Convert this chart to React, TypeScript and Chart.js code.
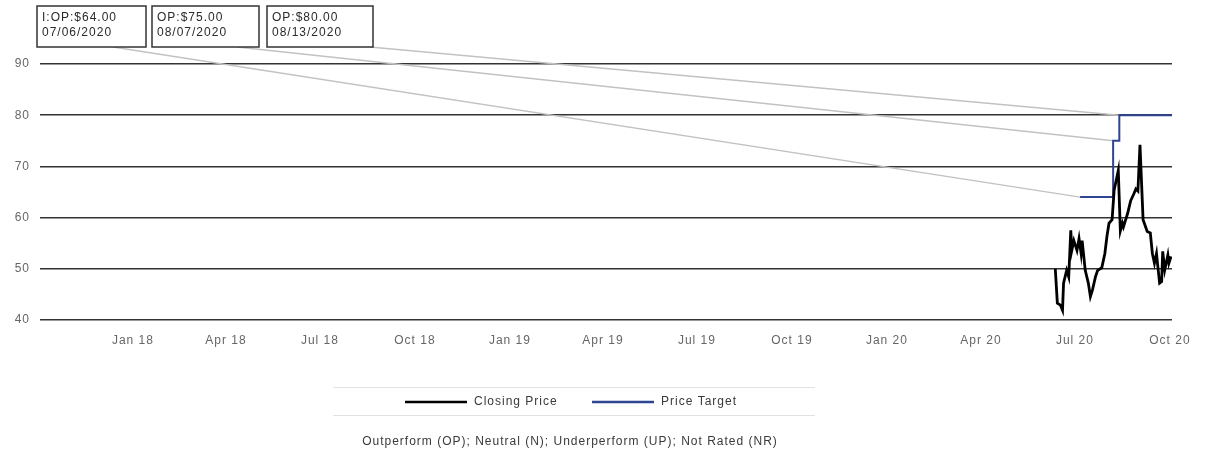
import React, { useEffect, useRef } from 'react';
import { Chart, registerables } from 'chart.js';

Chart.register(...registerables);

// ---- data ----
const priceDates = [
  '2020-06-12', '2020-06-14', '2020-06-17', '2020-06-19', '2020-06-20', '2020-06-23', '2020-06-25',
  '2020-06-27', '2020-06-28', '2020-06-30', '2020-07-03', '2020-07-05', '2020-07-07', '2020-07-08',
  '2020-07-11', '2020-07-14', '2020-07-16', '2020-07-18', '2020-07-21', '2020-07-23', '2020-07-27',
  '2020-07-30', '2020-08-01', '2020-08-03', '2020-08-06', '2020-08-08', '2020-08-12', '2020-08-14',
  '2020-08-16', '2020-08-17', '2020-08-21', '2020-08-24', '2020-08-27', '2020-08-29', '2020-08-31',
  '2020-09-02', '2020-09-05', '2020-09-09', '2020-09-12', '2020-09-14', '2020-09-16', '2020-09-18',
  '2020-09-19', '2020-09-21', '2020-09-23', '2020-09-24', '2020-09-26', '2020-09-29', '2020-09-30',
  '2020-10-02',
];
const priceValues = [
  50.0, 43.3, 42.9, 41.9, 47.2, 49.7, 48.4,
  57.5, 53.6, 55.5, 53.6, 55.9, 53.0, 55.5,
  49.7, 47.2, 44.6, 45.9, 48.5, 49.7, 50.2,
  53.0, 56.3, 58.9, 59.6, 65.4, 69.2, 57.4,
  58.9, 58.2, 60.8, 63.3, 64.6, 65.6, 65.2,
  74.2, 59.6, 57.3, 57.0, 53.0, 51.1, 53.0,
  51.0, 47.2, 47.5, 53.4, 49.8, 52.7, 51.1,
  52.4,
];
const targetDates = ['2020-07-06', '2020-08-07', '2020-08-13', '2020-10-03'];
const targetValues = [64, 75, 80, 80];
const ratingLabels = ['I:OP:$64.00', 'OP:$75.00', 'OP:$80.00'];
const ratingDates = ['07/06/2020', '08/07/2020', '08/13/2020'];
const tickDates = [
  '2018-01-01', '2018-04-01', '2018-07-01', '2018-10-01',
  '2019-01-01', '2019-04-01', '2019-07-01', '2019-10-01',
  '2020-01-01', '2020-04-01', '2020-07-01', '2020-10-01',
];
const tickLabels = [
  'Jan 18', 'Apr 18', 'Jul 18', 'Oct 18',
  'Jan 19', 'Apr 19', 'Jul 19', 'Oct 19',
  'Jan 20', 'Apr 20', 'Jul 20', 'Oct 20',
];
const seriesNames = ['Closing Price', 'Price Target'];
const footerText = 'Outperform (OP); Neutral (N); Underperform (UP); Not Rated (NR)';
const xStart = '2017-10-03';
const xEnd = '2020-10-03';
const yMin = 40;
const yMax = 90;

const dayOf = (s: string) => {
  const [y, m, d] = s.split('-').map(Number);
  return Date.UTC(y, m - 1, d) / 86400000;
};

const FONT = "'Liberation Sans', Arial, sans-serif";

// layout of the rating boxes (pixels)
const boxes = [
  { x: 37, y: 6, w: 109, h: 41, ax: 113 },
  { x: 152, y: 6, w: 107, h: 41, ax: 237 },
  { x: 267, y: 6, w: 106, h: 41, ax: 370 },
];

const overlay = {
  id: 'overlay',
  beforeUpdate(chart: any) {
    chart.ctx.letterSpacing = '1px';
  },
  beforeDatasetsDraw(chart: any) {
    const { ctx } = chart;
    const x = chart.scales.x;
    const y = chart.scales.y;
    ctx.save();
    ctx.strokeStyle = '#c2c2c2';
    ctx.lineWidth = 1.5;
    boxes.forEach((b, i) => {
      const tx = x.getPixelForValue(dayOf(targetDates[i]));
      const ty = y.getPixelForValue(targetValues[i]);
      ctx.beginPath();
      ctx.moveTo(b.ax, b.y + b.h);
      ctx.lineTo(tx, ty);
      ctx.stroke();
    });
    ctx.restore();
  },
  afterDraw(chart: any) {
    const { ctx } = chart;
    ctx.save();
    ctx.letterSpacing = '1px';
    // rating boxes
    boxes.forEach((b, i) => {
      ctx.fillStyle = '#ffffff';
      ctx.fillRect(b.x, b.y, b.w, b.h);
      ctx.strokeStyle = '#333333';
      ctx.lineWidth = 1.5;
      ctx.strokeRect(b.x, b.y, b.w, b.h);
      ctx.fillStyle = '#2a2a2a';
      ctx.font = `12px ${FONT}`;
      ctx.textAlign = 'left';
      ctx.textBaseline = 'middle';
      ctx.fillText(ratingLabels[i], b.x + 5, b.y + 12);
      ctx.fillText(ratingDates[i], b.x + 5, b.y + 27);
    });

    // legend
    ctx.strokeStyle = '#e2e2e2';
    ctx.lineWidth = 1;
    [387, 415].forEach((yy) => {
      ctx.beginPath();
      ctx.moveTo(333, yy + 0.5);
      ctx.lineTo(815, yy + 0.5);
      ctx.stroke();
    });
    const itemX = [405, 592];
    chart.data.datasets.forEach((ds: any, i: number) => {
      ctx.strokeStyle = ds.borderColor;
      ctx.lineWidth = 2.5;
      ctx.beginPath();
      ctx.moveTo(itemX[i], 402);
      ctx.lineTo(itemX[i] + 62, 402);
      ctx.stroke();
      ctx.fillStyle = '#3a3a3a';
      ctx.font = `12px ${FONT}`;
      ctx.textAlign = 'left';
      ctx.textBaseline = 'middle';
      ctx.fillText(ds.label, itemX[i] + 69, 402);
    });

    // footer
    ctx.fillStyle = '#3a3a3a';
    ctx.font = `12px ${FONT}`;
    ctx.textAlign = 'center';
    ctx.textBaseline = 'middle';
    ctx.fillText(footerText, 570, 442);
    ctx.restore();
  },
};

export default function App() {
  const canvasRef = useRef<HTMLCanvasElement | null>(null);

  useEffect(() => {
    if (!canvasRef.current) return;
    const tickValues = tickDates.map(dayOf);
    const chart = new Chart(canvasRef.current, {
      type: 'line',
      data: {
        datasets: [
          {
            label: seriesNames[0],
            data: priceDates.map((d, i) => ({ x: dayOf(d), y: priceValues[i] })),
            borderColor: '#000000',
            backgroundColor: '#000000',
            borderWidth: 2.8,
            pointRadius: 0,
            tension: 0,
            fill: false,
          },
          {
            label: seriesNames[1],
            data: targetDates.map((d, i) => ({ x: dayOf(d), y: targetValues[i] })),
            borderColor: '#2f4591',
            backgroundColor: '#2f4591',
            borderWidth: 2,
            pointRadius: 0,
            stepped: true,
            fill: false,
          },
        ],
      },
      options: {
        animation: false,
        responsive: false,
        maintainAspectRatio: false,
        layout: { padding: { top: 64, right: 34, bottom: 95, left: 0 } },
        plugins: {
          legend: { display: false },
          tooltip: { enabled: false },
          title: { display: false },
        },
        scales: {
          x: {
            type: 'linear',
            min: dayOf(xStart),
            max: dayOf(xEnd),
            afterBuildTicks: (scale: any) => {
              scale.ticks = tickValues.map((v) => ({ value: v }));
            },
            afterFit: (scale: any) => {
              scale.height = 40;
            },
            ticks: {
              autoSkip: false,
              maxRotation: 0,
              minRotation: 0,
              padding: 5,
              color: '#666666',
              font: { family: FONT, size: 12 },
              callback: (_v: any, index: number) => tickLabels[index] ?? '',
            },
            grid: { display: false },
            border: { display: false },
          },
          y: {
            min: yMin,
            max: yMax,
            afterFit: (scale: any) => {
              scale.width = 40;
            },
            ticks: {
              stepSize: 10,
              padding: 10,
              color: '#666666',
              font: { family: FONT, size: 12 },
            },
            grid: { color: '#333333', lineWidth: 1.6, drawTicks: false },
            border: { display: false },
          },
        },
      },
      plugins: [overlay],
    } as any);
    return () => chart.destroy();
  }, []);

  return (
    <canvas
      ref={canvasRef}
      width={1206}
      height={455}
      style={{ position: 'fixed', left: 0, top: 0, width: 1206, height: 455 }}
    />
  );
}
